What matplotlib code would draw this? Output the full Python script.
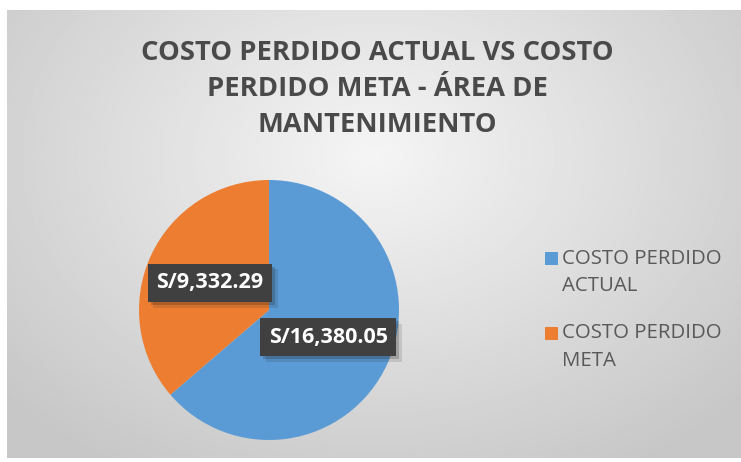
import numpy as np
import matplotlib.pyplot as plt
import matplotlib.patheffects as pe
from matplotlib.patches import Rectangle

categories = ['COSTO PERDIDO\nACTUAL', 'COSTO PERDIDO\nMETA']
values = [16380.05, 9332.29]
colors = ['#5B9BD5', '#ED7D31']
title = 'COSTO PERDIDO ACTUAL VS COSTO\nPERDIDO META - ÁREA DE\nMANTENIMIENTO'

plt.rcParams['font.family'] = ['Open Sans', 'DejaVu Sans']

fig = plt.figure(figsize=(7.41, 4.62), dpi=100)
W, H = 741, 462

# radial grey background of the chart area
bg = fig.add_axes([7 / W, 4 / H, 734 / W, 448 / H])
gx, gy = np.meshgrid(np.linspace(-1, 1, 400), np.linspace(-1, 1, 300))
r = np.sqrt(gx ** 2 + ((gy + 0.35) / 1.2) ** 2)
shade = 0.96 - 0.18 * np.clip(r / 1.35, 0, 1)
bg.imshow(shade, cmap='gray', vmin=0, vmax=1, aspect='auto',
          extent=[0, 1, 0, 1], interpolation='bilinear')
bg.axis('off')

# pie
ax = fig.add_axes([139 / W, 22 / H, 260 / W, 260 / H])
total = sum(values)


def fmt(p):
    return 'S/{:,.2f}'.format(p * total / 100)


wedges, _, autotexts = ax.pie(values, colors=colors, startangle=90, counterclock=False,
                              autopct=fmt, pctdistance=0.5, radius=1,
                              wedgeprops=dict(linewidth=0))
for t in autotexts:
    t.set_color('white')
    t.set_fontsize(15.5)
    t.set_fontweight('bold')
    t.set_bbox(dict(boxstyle='square,pad=0.4', facecolor='#404040',
                    edgecolor='none', linewidth=0))
    t.get_bbox_patch().set_path_effects([
        pe.SimplePatchShadow(offset=(4, -4), alpha=0.12),
        pe.SimplePatchShadow(offset=(2, -2), alpha=0.2),
        pe.Normal()])
ax.set_xlim(-1, 1)
ax.set_ylim(-1, 1)
ax.set_aspect('equal')

fig.text(377 / W, 1 - 89 / H, title, ha='center', va='center', fontsize=19.7,
         fontweight='bold', color='#4a4a4a', linespacing=1.5)

# legend, square beside the first line of each label
for i, (w, lab) in enumerate(zip(wedges, categories)):
    yc = 258 + i * 75
    fig.patches.append(Rectangle((545 / W, 1 - (yc + 6.5) / H), 13 / W, 13 / H,
                                 transform=fig.transFigure, facecolor=w.get_facecolor(),
                                 edgecolor='none'))
    fig.text(562 / W, 1 - (yc + 14.25) / H, lab, ha='left', va='center', fontsize=14.7,
             color='#595959', linespacing=1.5)

fig.savefig('out.png', dpi=100)
